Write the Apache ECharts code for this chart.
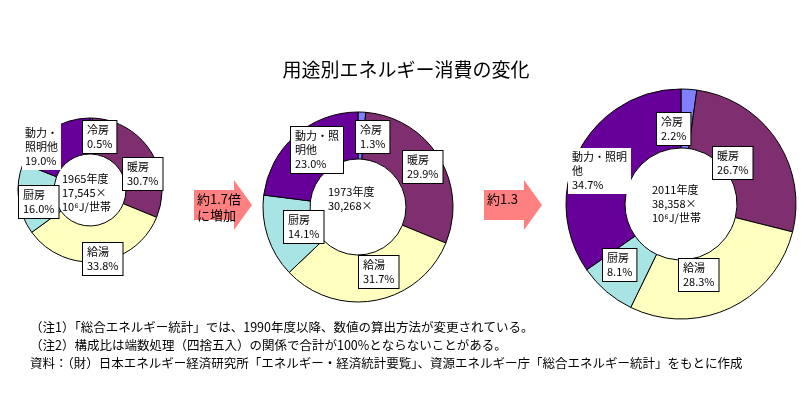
<!DOCTYPE html>
<html><head><meta charset="utf-8">
<script src="https://cdn.jsdelivr.net/npm/echarts@6/dist/echarts.min.js"></script>
<style>html,body{margin:0;background:#fff}#c{width:812px;height:405px}</style>
</head><body><div id="c"></div>
<script>
const uses = ['冷房', '暖房', '給湯', '厨房', '動力・照明他'];
const colors = ['#8080ff', '#7f2f6f', '#ffffc0', '#a8e4e4', '#660099'];
const share1965 = [0.5, 30.7, 33.8, 16.0, 19.0];
const share1973 = [1.3, 29.9, 31.7, 14.1, 23.0];
const share2011 = [2.2, 26.7, 28.3, 8.1, 34.7];
const centers = ['1965年度\n17,545×\n10⁶J/世帯', '1973年度\n30,268×', '2011年度\n38,358×\n10⁶J/世帯'];
const notes = [
  '（注1）「総合エネルギー統計」では、1990年度以降、数値の算出方法が変更されている。',
  '（注2）構成比は端数処理（四捨五入）の関係で合計が100%とならないことがある。',
  '資料：（財）日本エネルギー経済研究所「エネルギー・経済統計要覧」、資源エネルギー庁「総合エネルギー統計」をもとに作成'
];
const font = '"Noto Sans CJK JP", sans-serif';

function pie(vals, center, radius) {
  return {
    type: 'pie', center: center, radius: radius, startAngle: 90, clockwise: true,
    silent: true, label: { show: false }, labelLine: { show: false },
    itemStyle: { borderColor: '#000', borderWidth: 1 },
    data: vals.map((v, i) => ({ name: uses[i], value: v, itemStyle: { color: colors[i] } }))
  };
}

function lab(x, y, name, v, box) {
  return {
    type: 'text', left: x, top: y, z: 10,
    style: {
      text: name + '\n' + v.toFixed(1) + '%', font: '11px ' + font, fill: '#000',
      align: 'center', lineHeight: 14,
      backgroundColor: box ? '#fff' : null, borderColor: box ? '#000' : null,
      borderWidth: box ? 1 : 0, padding: [2, 4]
    }
  };
}
function ctext(x, y, t) {
  return { type: 'text', left: x, top: y, z: 10,
    style: { text: t, font: '11px ' + font, fill: '#000', align: 'center', lineHeight: 14 } };
}
function arrow(x, y, t) {
  return [{
    type: 'polygon', z: 5,
    shape: { points: [[x, y + 10], [x + 40, y + 10], [x + 40, y], [x + 58, y + 25], [x + 40, y + 50], [x + 40, y + 40], [x, y + 40]] },
    style: { fill: '#ff8080' }
  }, {
    type: 'text', left: x + 3, top: y + 11, z: 6,
    style: { text: t, font: '13px ' + font, fill: '#000', lineHeight: 16 }
  }];
}

const chart = echarts.init(document.getElementById('c'));
chart.setOption({
  animation: false,
  title: { text: '用途別エネルギー消費の変化', left: 'center', top: 55,
    textStyle: { fontFamily: font, fontSize: 19, fontWeight: 'normal', color: '#000' } },
  series: [
    pie(share1965, [90, 190], [36, 72]),
    pie(share1973, [358, 207], [48, 95]),
    pie(share2011, [681, 204], [56, 115])
  ],
  graphic: [
    lab(82, 120, uses[0], share1965[0], true),
    lab(122, 157, uses[1], share1965[1], true),
    lab(82, 242, uses[2], share1965[2], true),
    lab(18, 185, uses[3], share1965[3], true),
    { type: 'text', left: 22, top: 124, z: 10, style: { text: '動力・\n照明他\n19.0%', font: '11px ' + font, align: 'center', lineHeight: 14, backgroundColor: '#fff', padding: [2, 3] } },
    ctext(62, 172, centers[0]),
    lab(355, 120, uses[0], share1973[0], true),
    { type: 'text', left: 290, top: 126, z: 10, style: { text: '動力・照\n明他\n23.0%', font: '11px ' + font, align: 'center', lineHeight: 14, backgroundColor: '#fff', borderColor: '#000', borderWidth: 1, padding: [2, 4] } },
    lab(402, 150, uses[1], share1973[1], true),
    lab(283, 210, uses[3], share1973[3], true),
    lab(358, 255, uses[2], share1973[2], true),
    ctext(328, 185, centers[1]),
    lab(656, 112, uses[0], share2011[0], true),
    lab(712, 146, uses[1], share2011[1], true),
    { type: 'text', left: 568, top: 148, z: 10, style: { text: '動力・照明\n他\n34.7%', font: '11px ' + font, align: 'center', lineHeight: 14, backgroundColor: '#fff', padding: [2, 4] } },
    lab(602, 248, uses[3], share2011[3], true),
    lab(678, 258, uses[2], share2011[2], true),
    ctext(652, 183, centers[2]),
    ...arrow(194, 180, '約1.7倍\nに増加'),
    ...arrow(484, 180, '約1.3'),
    { type: 'text', left: 30, top: 318, style: { text: notes.join('\n'), font: '12.5px ' + font, fill: '#000', lineHeight: 18 } }
  ]
});
</script></body></html>
